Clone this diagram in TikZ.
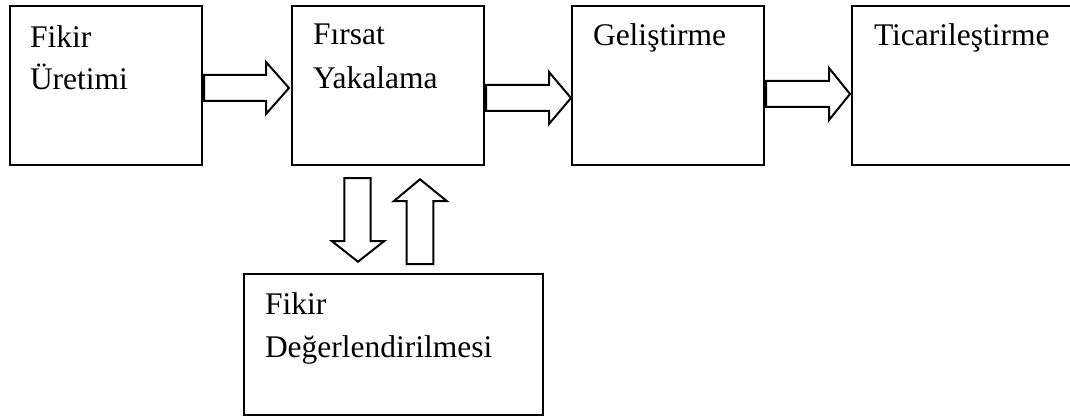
\documentclass[tikz,border=0pt]{standalone}
\usepackage{fontspec}
\setmainfont{Liberation Serif}
\begin{document}
\begin{tikzpicture}[x=0.5pt,y=-0.5pt,
  stage/.style={draw=black,line width=1pt,rectangle,inner sep=0pt,outer sep=0pt,anchor=north west},
  lbl/.style={anchor=base west,inner sep=0pt,outer sep=0pt,font=\fontsize{15.75pt}{21pt}\selectfont},
  barrow/.style={draw=black,fill=white,line width=1pt,line join=miter}]
\useasboundingbox (0,0) rectangle (1070,417);

% stage boxes
\node[stage,minimum width=96pt,minimum height=79.5pt] (gen) at (10,6) {};
\node[stage,minimum width=96pt,minimum height=79.5pt] (opp) at (292,6) {};
\node[stage,minimum width=96pt,minimum height=79.5pt] (dev) at (572,6) {};
\node[stage,minimum width=114pt,minimum height=79.5pt] (com) at (852,6) {};
\node[stage,minimum width=149.5pt,minimum height=70.5pt] (eva) at (244,274) {};

% box labels
\node[lbl] (gen1) at (30,48) {Fikir};
\node[lbl] (gen2) at (30,90) {Üretimi};
\node[lbl] (opp1) at (313,45) {Fırsat};
\node[lbl] (opp2) at (313,89) {Yakalama};
\node[lbl] (dev1) at (593,46) {Geliştirme};
\node[lbl] (com1) at (874,46) {Ticarileştirme};
\node[lbl] (eva1) at (265,314) {Fikir};
\node[lbl] (eva2) at (265,357) {Değerlendirilmesi};

% block arrows between the stages
\draw[barrow] (204,75) -- (266,75) -- (266,62) -- (289,88) -- (266,114) -- (266,101) -- (204,101) -- cycle;
\draw[barrow] (486,85) -- (549,85) -- (549,72) -- (571,98) -- (549,124) -- (549,111) -- (486,111) -- cycle;
\draw[barrow] (766,81) -- (829,81) -- (829,68) -- (850,94) -- (829,120) -- (829,107) -- (766,107) -- cycle;

% down and up arrows to the evaluation box
\draw[barrow] (344.3,178) -- (370.7,178) -- (370.7,241) -- (384.3,241) -- (358,261.7) -- (331.7,241) -- (344.3,241) -- cycle;
\draw[barrow] (406.7,264) -- (406.7,201) -- (394,201) -- (420,179.3) -- (446.7,201) -- (433.3,201) -- (433.3,264) -- cycle;
\end{tikzpicture}
\end{document}
